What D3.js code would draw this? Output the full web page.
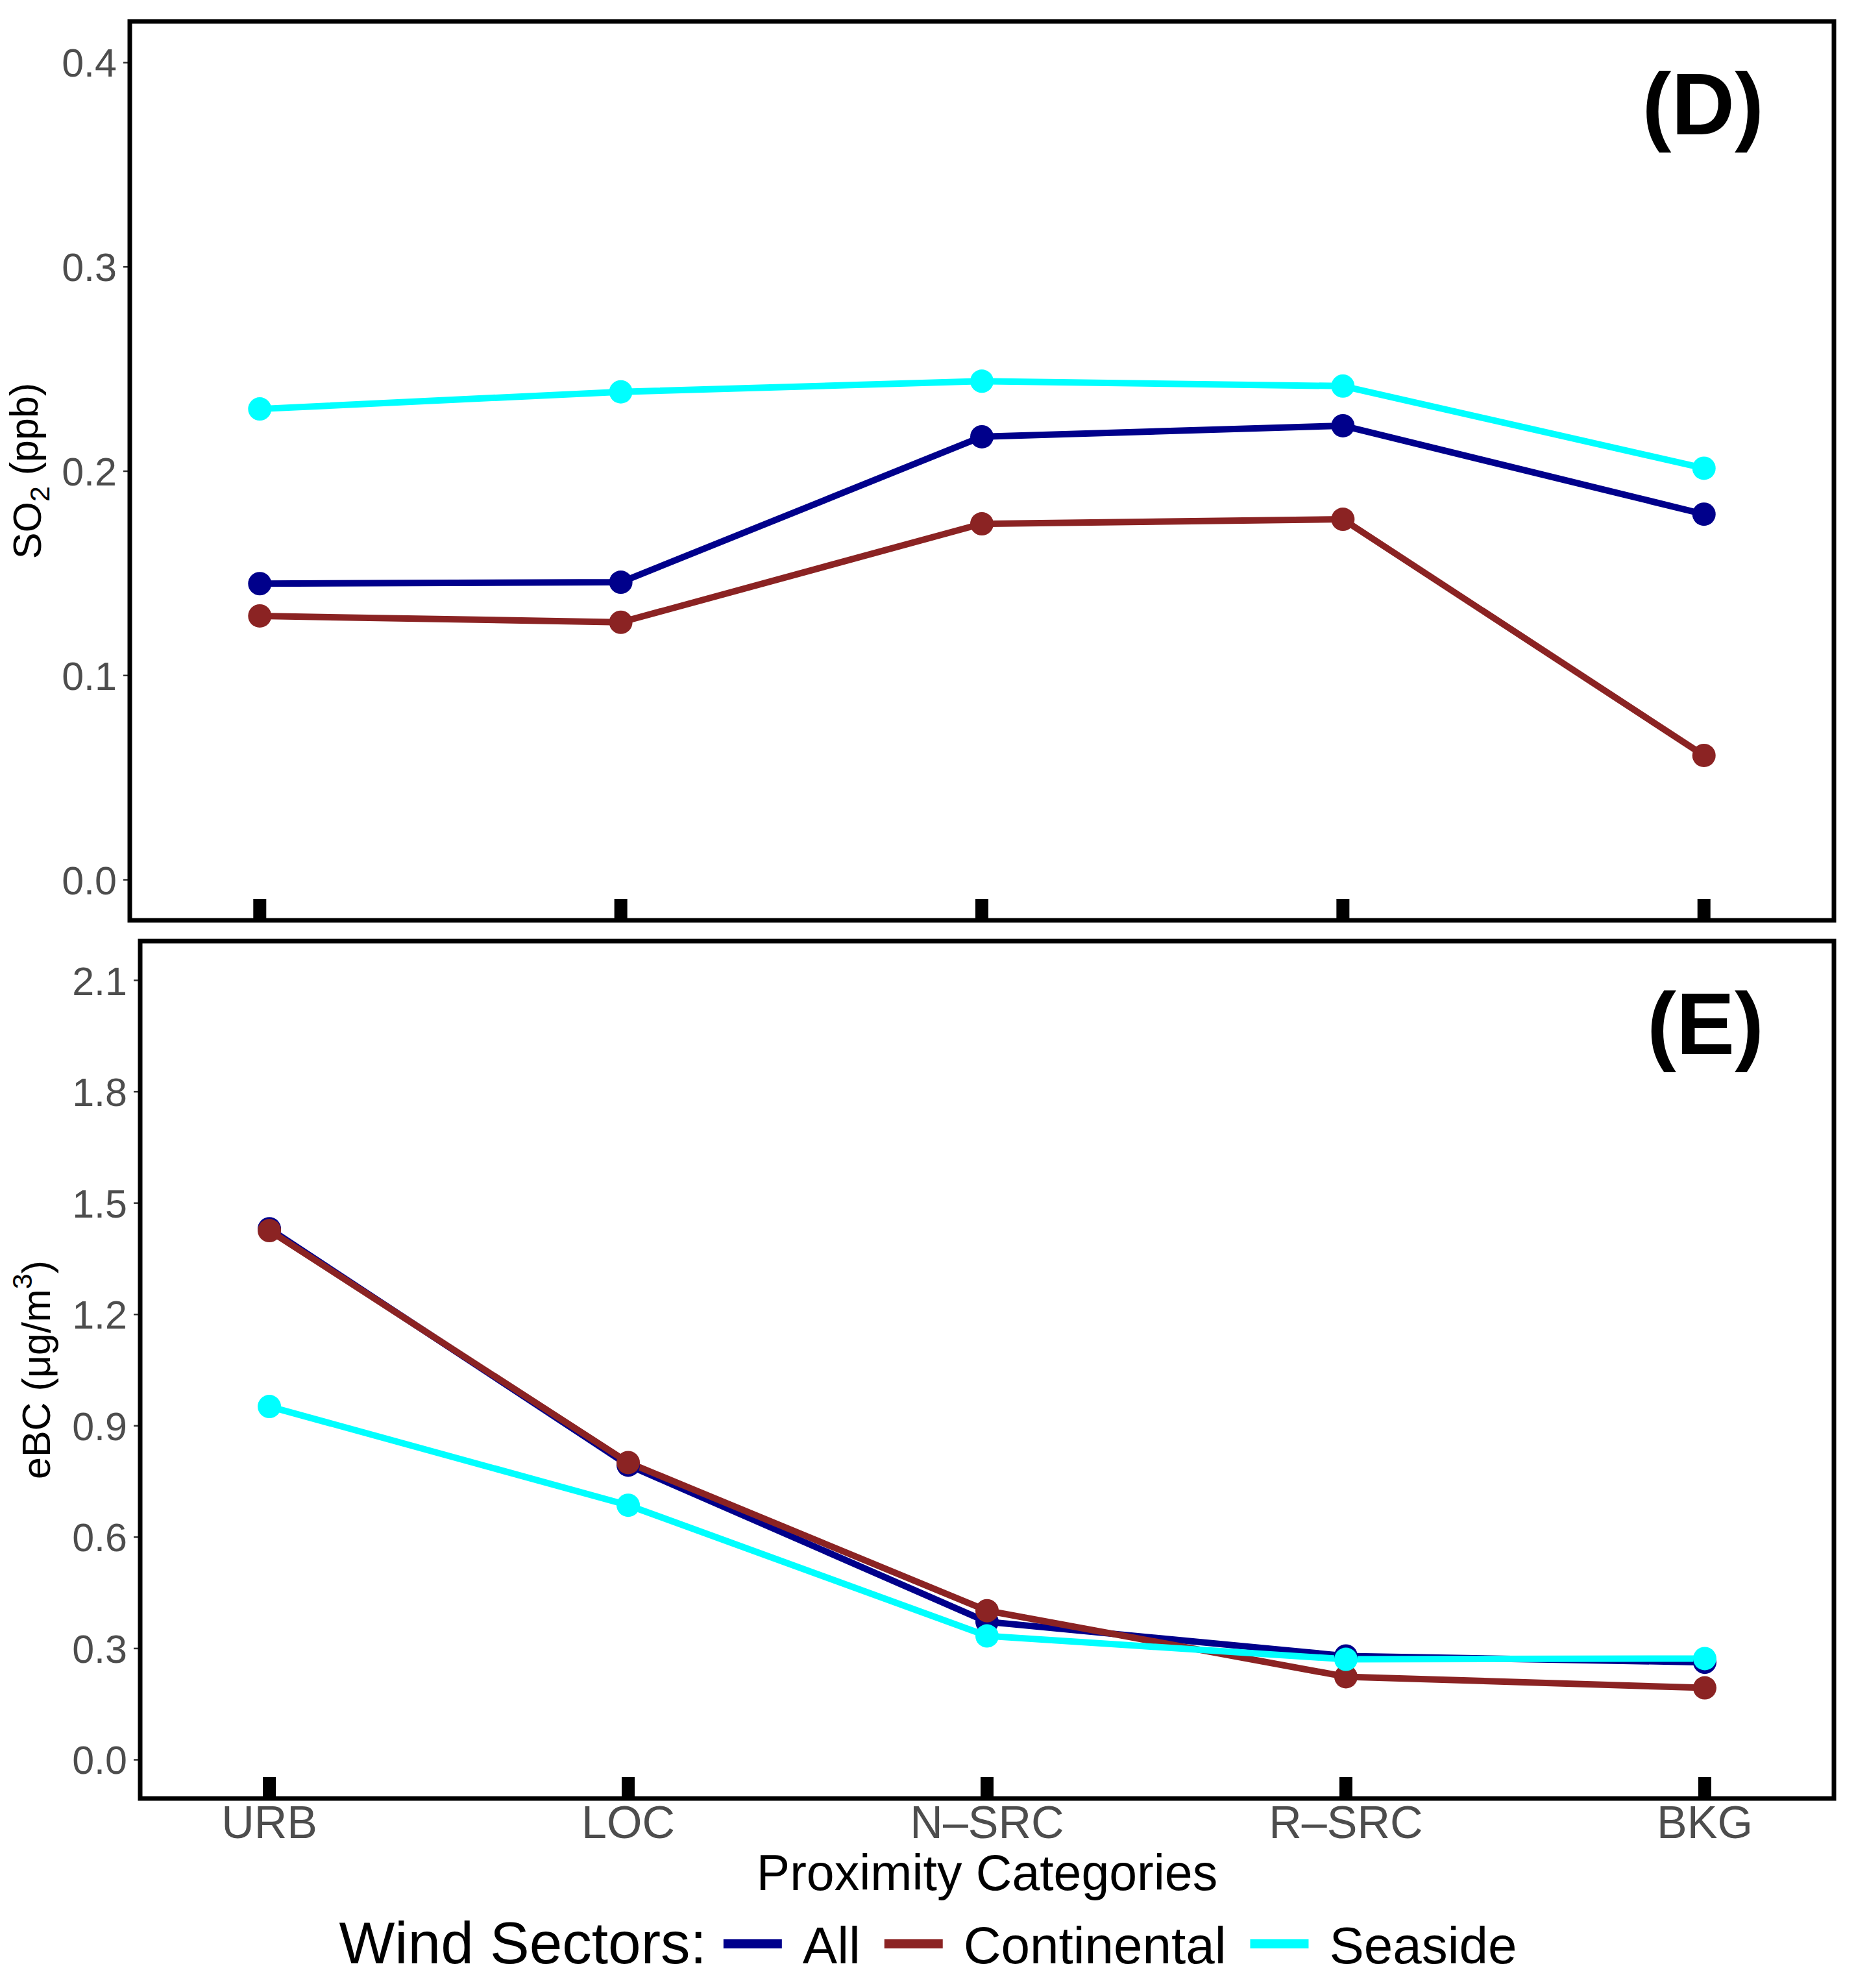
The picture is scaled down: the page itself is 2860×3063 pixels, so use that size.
<!DOCTYPE html>
<html>
<head>
<meta charset="utf-8">
<script src="https://cdn.jsdelivr.net/npm/d3@7"></script>
<style>
    body { margin: 0; background: #fff; }
    text { font-family: "Liberation Sans", Arial, sans-serif; }
</style>
</head>
<body>
<svg id="chart" width="2860" height="3063"></svg>
<script>
// categories along x
let categories = ["URB", "LOC", "N\u2013SRC", "R\u2013SRC", "BKG"];
let sectors = ["All", "Continental", "Seaside"];
let sectorColors = ["#00008B", "#8B2323", "#00FFFF"];

// panel D: SO2 (ppb)
let so2All = [0.1448, 0.1455, 0.2167, 0.2221, 0.1788];
let so2Continental = [0.1290, 0.1259, 0.1741, 0.1763, 0.0607];
let so2Seaside = [0.2303, 0.2387, 0.2439, 0.2415, 0.2013];
let so2Ticks = [0.0, 0.1, 0.2, 0.3, 0.4];

// panel E: eBC (ug/m3)
let ebcAll = [1.430, 0.793, 0.371, 0.279, 0.262];
let ebcContinental = [1.425, 0.800, 0.401, 0.223, 0.193];
let ebcSeaside = [0.951, 0.685, 0.333, 0.270, 0.272];
let ebcTicks = [0.0, 0.3, 0.6, 0.9, 1.2, 1.5, 1.8, 2.1];

let svg = d3.select("#chart");

/**
 * Draws one panel (frame, axis, lines, points, tag).
 */
function drawPanel(p) {
    let x = d3.scalePoint().domain(categories).range([p.left, p.right]).padding(0.36);
    let y = d3.scaleLinear().domain(p.domain).range([p.bottom, p.top]);
    let g = svg.append("g");

    // y axis ticks + labels
    let yAxis = d3.axisLeft(y).tickValues(p.ticks).tickSize(7).tickPadding(10)
                  .tickFormat(d3.format(".1f"));
    let ya = g.append("g").attr("transform", "translate(" + (p.left - 3) + ",0)").call(yAxis);
    ya.select(".domain").remove();
    ya.selectAll("line").attr("stroke", "#333").attr("stroke-width", 2.5);
    ya.selectAll("text").attr("fill", "#4D4D4D").style("font-size", "61px")
      .attr("dy", "0.36em");

    // frame
    g.append("rect")
        .attr("x", p.left).attr("y", p.top)
        .attr("width", p.right - p.left).attr("height", p.bottom - p.top)
        .attr("fill", "none").attr("stroke", "#000").attr("stroke-width", 7);

    // thick inward ticks at the bottom
    g.selectAll("rect.xtick").data(categories).enter().append("rect")
        .attr("class", "xtick")
        .attr("x", d => x(d) - 10).attr("y", p.bottom - 33)
        .attr("width", 20).attr("height", 33)
        .attr("fill", "#000");

    let line = d3.line().x((d, i) => x(categories[i])).y(d => y(d));

    // lines first, then points on top
    p.series.forEach(function(s, k) {
        g.append("path").datum(s)
            .attr("d", line)
            .attr("fill", "none")
            .attr("stroke", sectorColors[k])
            .attr("stroke-width", 10)
            .attr("stroke-linejoin", "round");
    });
    p.series.forEach(function(s, k) {
        g.selectAll("circle.s" + k).data(s).enter().append("circle")
            .attr("class", "s" + k)
            .attr("cx", (d, i) => x(categories[i]))
            .attr("cy", d => y(d))
            .attr("r", 18)
            .attr("fill", sectorColors[k]);
    });

    // panel tag
    g.append("text")
        .attr("x", 2718).attr("y", p.top + 174)
        .attr("text-anchor", "end")
        .style("font-size", "135px").style("font-weight", "bold")
        .text(p.tag);

    // y title
    let t = g.append("text")
        .attr("transform", "translate(" + p.titleX + "," + ((p.top + p.bottom) / 2) + ") rotate(-90)")
        .attr("text-anchor", "middle")
        .style("font-size", "61px");
    p.title(t);

    return x;
}

drawPanel({
    left: 200, right: 2826, top: 33, bottom: 1418,
    domain: [-0.02, 0.42], ticks: so2Ticks,
    series: [so2All, so2Continental, so2Seaside],
    tag: "(D)", titleX: 63,
    title: function(t) {
        t.append("tspan").text("SO");
        t.append("tspan").text("2").style("font-size", "43px").attr("dy", "0.3em");
        t.append("tspan").text(" (ppb)").attr("dy", "-0.3em");
    }
});

let xE = drawPanel({
    left: 216, right: 2826, top: 1450, bottom: 2771,
    domain: [-0.105, 2.205], ticks: ebcTicks,
    series: [ebcAll, ebcContinental, ebcSeaside],
    tag: "(E)", titleX: 77,
    title: function(t) {
        t.append("tspan").text("eBC (\u03bcg/m");
        t.append("tspan").text("3").style("font-size", "43px").attr("dy", "-0.65em");
        t.append("tspan").text(")").attr("dy", "0.45em");
    }
});

// x tick labels under panel E
svg.selectAll("text.xlab").data(categories).enter().append("text")
    .attr("class", "xlab")
    .attr("x", d => xE(d)).attr("y", 2832)
    .attr("text-anchor", "middle")
    .attr("fill", "#4D4D4D")
    .style("font-size", "70px")
    .text(d => d);

// x title
svg.append("text")
    .attr("x", (216 + 2826) / 2).attr("y", 2912)
    .attr("text-anchor", "middle")
    .style("font-size", "77px")
    .text("Proximity Categories");

// legend, laid out from measured text widths and centred on the figure
let legend = svg.append("g");
let lx = 0;
let title = legend.append("text").attr("x", lx).attr("y", 3025)
    .style("font-size", "91px").text("Wind Sectors:");
lx += title.node().getComputedTextLength() + 26;
sectors.forEach(function(s, k) {
    legend.append("line")
        .attr("x1", lx).attr("x2", lx + 90)
        .attr("y1", 2995).attr("y2", 2995)
        .attr("stroke", sectorColors[k]).attr("stroke-width", 14);
    lx += 90 + 32;
    let lab = legend.append("text").attr("x", lx).attr("y", 3025)
        .style("font-size", "80px").text(s);
    lx += lab.node().getComputedTextLength() + 37;
});
lx -= 37;
legend.attr("transform", "translate(" + (1430 - lx / 2) + ",0)");
</script>
</body>
</html>
